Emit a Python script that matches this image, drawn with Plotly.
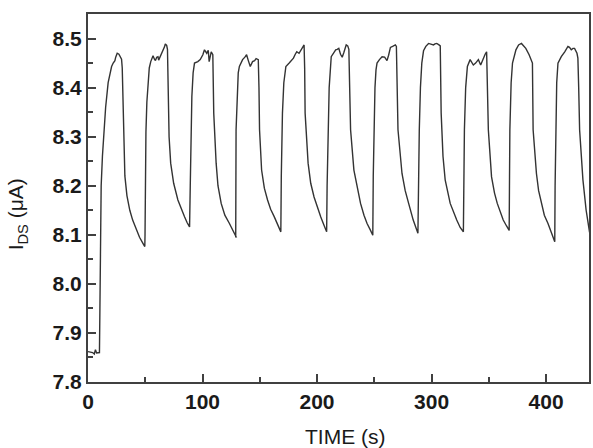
import plotly.graph_objects as go

# Time (s) and drain-source current (uA)
time_s = [
    0, 2, 4, 5.5, 6.5, 7.5, 10, 10.4, 10.8, 11.5, 12.6, 14.0, 15.4, 17.6, 19.5, 20.6, 22.0, 23.5, 24.2,
    25.5, 27.0, 29.3, 29.9, 30.7, 31.5, 32.2, 34.0, 36.5, 39.0, 42.3, 45.0, 48.1, 49.6,
    49.8, 50.2, 50.6, 51.4, 52.4, 53.5, 54.8, 56.8, 58.0, 58.9, 60.0, 61.1, 61.7, 63.0, 64.6, 65.8,
    66.8, 67.5, 68.7, 69.4, 70.0, 70.8, 72.2, 74.8, 78.5, 81.0, 84.3, 86.5, 88.7,
    89.3, 89.8, 90.7, 91.8, 93.0, 95.9, 98.0, 100.3, 101.7, 103.7, 105.0, 105.8, 106.5, 107.6, 109.0,
    109.8, 111.9, 113.5, 116.3, 119.5, 123.5, 126.5, 129.3,
    129.0, 129.3, 130.2, 131.2, 132.2, 135.0, 137.0, 138.5, 140.0, 141.7, 143.7, 145.5, 146.8, 148.1,
    148.7, 149.3, 149.8, 151.6, 154.0, 156.8, 159.5, 162.6, 165.5, 168.4,
    168.8, 169.8, 171.0, 172.8, 175.7, 177.5, 179.4, 181.0, 182.3, 184.3, 185.5, 186.8, 188.1, 188.7,
    189.2, 189.6, 192.2, 194.5, 197.4, 200.0, 203.2, 206.0, 208.4,
    208.8, 209.6, 210.6, 212.4, 214.5, 216.3, 217.6, 219.0, 220.5, 222.0, 223.5, 225.5, 226.8, 227.8,
    228.5, 229.3, 232.2, 235.0, 238.0, 241.0, 243.7, 246.5, 248.7,
    249.1, 249.6, 250.6, 251.5, 252.4, 254.5, 256.8, 259.0, 261.1, 262.5, 264.1, 266.0, 268.4, 269.3,
    270.0, 270.7, 274.2, 277.0, 280.0, 284.0, 288.1,
    288.5, 289.3, 290.3, 291.5, 293.0, 295.0, 297.4, 299.5, 301.7, 303.0, 304.6, 306.5, 307.6, 308.4,
    310.0, 311.9, 316.3, 322.0, 325.0, 327.8,
    328.2, 328.7, 329.8, 331.3, 333.7, 335.0, 336.5, 338.5, 340.9, 342.9, 345.2, 346.8, 348.1, 348.7,
    349.6, 352.4, 355.0, 357.4, 362.6, 365.5, 367.8,
    368.1, 368.4, 369.5, 370.7, 373.7, 376.0, 378.5, 380.5, 382.3, 385.2, 387.2, 388.1, 388.7, 391.6,
    393.5, 395.9, 398.5, 401.7, 405.0, 407.6,
    407.9, 408.4, 409.3, 410.4, 413.3, 416.3, 419.1, 420.5, 422.0, 423.5, 424.9, 427.0, 427.8, 428.5,
    429.3, 432.2, 435.0, 438.0,
]

ids_uA = [
    7.862, 7.861, 7.860, 7.857, 7.866, 7.859, 7.860, 7.950, 8.100, 8.200, 8.260, 8.310, 8.360, 8.410, 8.430, 8.443, 8.450, 8.455, 8.462,
    8.470, 8.468, 8.458, 8.440, 8.350, 8.280, 8.220, 8.180, 8.150, 8.130, 8.110, 8.095, 8.082, 8.076,
    8.100, 8.220, 8.310, 8.370, 8.416, 8.440, 8.453, 8.465, 8.458, 8.455, 8.462, 8.463, 8.456, 8.462, 8.470, 8.477,
    8.483, 8.489, 8.486, 8.478, 8.400, 8.300, 8.246, 8.205, 8.171, 8.155, 8.137, 8.125, 8.116,
    8.200, 8.314, 8.382, 8.430, 8.450, 8.453, 8.457, 8.467, 8.477, 8.470, 8.476, 8.453, 8.462, 8.473, 8.467,
    8.348, 8.246, 8.200, 8.164, 8.140, 8.123, 8.108, 8.096,
    8.096, 8.314, 8.390, 8.430, 8.443, 8.457, 8.462, 8.467, 8.455, 8.443, 8.453, 8.455, 8.459, 8.457,
    8.457, 8.400, 8.314, 8.232, 8.195, 8.171, 8.152, 8.137, 8.120, 8.106,
    8.220, 8.348, 8.410, 8.443, 8.450, 8.455, 8.460, 8.468, 8.473, 8.470, 8.475, 8.479, 8.484, 8.487,
    8.440, 8.348, 8.246, 8.205, 8.177, 8.158, 8.137, 8.120, 8.106,
    8.200, 8.314, 8.400, 8.463, 8.470, 8.477, 8.478, 8.480, 8.468, 8.462, 8.472, 8.487, 8.485, 8.478,
    8.400, 8.314, 8.232, 8.195, 8.164, 8.140, 8.123, 8.110, 8.099,
    8.220, 8.314, 8.400, 8.436, 8.450, 8.457, 8.463, 8.462, 8.455, 8.466, 8.482, 8.484, 8.487, 8.484,
    8.400, 8.314, 8.225, 8.190, 8.164, 8.130, 8.103,
    8.220, 8.314, 8.400, 8.450, 8.475, 8.484, 8.490, 8.488, 8.487, 8.489, 8.490, 8.487, 8.485, 8.348,
    8.260, 8.212, 8.164, 8.130, 8.115, 8.106,
    8.220, 8.314, 8.400, 8.443, 8.457, 8.452, 8.446, 8.450, 8.457, 8.446, 8.460, 8.468, 8.473, 8.400,
    8.314, 8.218, 8.185, 8.164, 8.130, 8.118, 8.109,
    8.220, 8.314, 8.410, 8.450, 8.477, 8.487, 8.490, 8.485, 8.480, 8.467, 8.452, 8.450, 8.314, 8.225,
    8.190, 8.164, 8.140, 8.123, 8.100, 8.086,
    8.200, 8.314, 8.410, 8.450, 8.463, 8.473, 8.484, 8.482, 8.477, 8.480, 8.480, 8.470, 8.460, 8.400,
    8.314, 8.212, 8.150, 8.105,
]

x_ticks = [0, 100, 200, 300, 400]
y_ticks = [7.8, 7.9, 8.0, 8.1, 8.2, 8.3, 8.4, 8.5]

FONT = "Liberation Sans, Arial, sans-serif"
AX = "#404040"

fig = go.Figure()
fig.add_trace(go.Scatter(
    x=time_s, y=ids_uA, mode="lines",
    line=dict(color="#333333", width=1.4),
    showlegend=False,
))

fig.update_layout(
    width=593, height=448,
    margin=dict(l=88, r=2, t=14, b=66),
    paper_bgcolor="white", plot_bgcolor="white",
    font=dict(family=FONT, color="#1a1a1a"),
)

fig.update_xaxes(
    range=[0, 437.5], tickvals=x_ticks, ticks="inside", ticklen=8, tickwidth=2, tickcolor=AX,
    minor=dict(dtick=50, tick0=0, ticks="inside", ticklen=5, tickwidth=1.5, tickcolor=AX),
    showline=True, linecolor=AX, linewidth=2, mirror=True, showgrid=False, zeroline=False,
    tickfont=dict(family=FONT, size=21, color="#1a1a1a", weight="bold"),
)
fig.update_yaxes(
    range=[7.8, 8.55], tickvals=y_ticks, tickformat=".1f", ticks="inside", ticklen=8, tickwidth=2,
    tickcolor=AX,
    minor=dict(dtick=0.05, tick0=7.8, ticks="inside", ticklen=5, tickwidth=1.5, tickcolor=AX),
    showline=True, linecolor=AX, linewidth=2, mirror=True, showgrid=False, zeroline=False,
    tickfont=dict(family=FONT, size=21, color="#1a1a1a", weight="bold"),
)

fig.add_annotation(
    text="TIME (s)", xref="paper", yref="paper", x=0.513, y=-0.147,
    showarrow=False, xanchor="center", yanchor="middle",
    font=dict(family=FONT, size=21, color="#1a1a1a"),
)
fig.add_annotation(
    text="I<sub>DS</sub> (μA)", xref="paper", yref="paper", x=-0.141, y=0.4565,
    showarrow=False, xanchor="center", yanchor="middle", textangle=-90,
    font=dict(family=FONT, size=21, color="#1a1a1a"),
)

fig.write_html("out.html")
